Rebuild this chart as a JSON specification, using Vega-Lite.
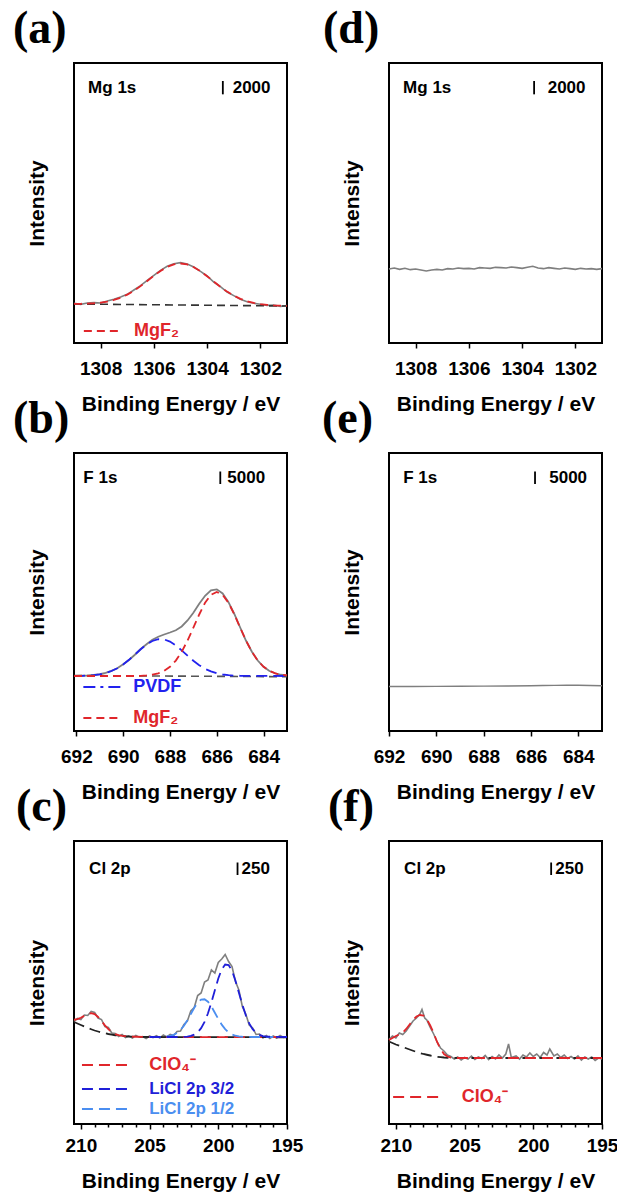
{
"$schema": "https://vega.github.io/schema/vega-lite/v6.json",
"padding": {"left": 12, "top": 5, "right": 0, "bottom": 0},
"columns": 2,
"bounds": "flush",
"spacing": {"row": 110, "column": 102},
"config": {
  "view": {"stroke": "#000", "strokeWidth": 2},
  "font": "Liberation Sans",
  "title": {"anchor": "start", "frame": "group", "font": "Liberation Serif", "fontSize": 46, "fontWeight": "bold", "color": "#000", "baseline": "alphabetic", "offset": 10},
  "axisX": {"titleFontSize": 21, "titleFontWeight": "bold", "titleColor": "#000", "labelFontSize": 19, "labelFontWeight": "bold", "labelColor": "#000", "tickColor": "#000", "tickWidth": 1.5, "tickSize": 5, "domain": false, "grid": false, "labelPadding": 11, "titlePadding": 15, "labelFlush": false, "labelOverlap": false},
  "axisY": {"labels": false, "ticks": false, "domain": false, "grid": false, "titleFontSize": 21, "titleFontWeight": "bold", "titleColor": "#000", "titlePadding": 27},
  "text": {"font": "Liberation Sans", "fontWeight": "bold", "fontSize": 17, "align": "left", "baseline": "middle", "color": "#000"},
  "line": {"strokeWidth": 1.8}
},
"datasets": {
  "a": [
    {"s":"raw","eV":1309,"cps":5950},{"s":"raw","eV":1308.75,"cps":5800},{"s":"raw","eV":1308.5,"cps":5990},{"s":"raw","eV":1308.25,"cps":6050},{"s":"raw","eV":1308,"cps":6000},{"s":"raw","eV":1307.75,"cps":6300},{"s":"raw","eV":1307.5,"cps":6550},{"s":"raw","eV":1307.25,"cps":6900},{"s":"raw","eV":1307,"cps":7300},{"s":"raw","eV":1306.75,"cps":7950},{"s":"raw","eV":1306.5,"cps":8600},{"s":"raw","eV":1306.25,"cps":9400},{"s":"raw","eV":1306,"cps":10150},{"s":"raw","eV":1305.75,"cps":10900},{"s":"raw","eV":1305.5,"cps":11500},{"s":"raw","eV":1305.25,"cps":11900},{"s":"raw","eV":1305,"cps":12050},{"s":"raw","eV":1304.75,"cps":11850},{"s":"raw","eV":1304.5,"cps":11400},{"s":"raw","eV":1304.25,"cps":10750},{"s":"raw","eV":1304,"cps":10050},{"s":"raw","eV":1303.75,"cps":9150},{"s":"raw","eV":1303.5,"cps":8450},{"s":"raw","eV":1303.25,"cps":7650},{"s":"raw","eV":1303,"cps":7100},{"s":"raw","eV":1302.75,"cps":6550},{"s":"raw","eV":1302.5,"cps":6200},{"s":"raw","eV":1302.25,"cps":5950},{"s":"raw","eV":1302,"cps":5800},{"s":"raw","eV":1301.75,"cps":5650},{"s":"raw","eV":1301.5,"cps":5700},{"s":"raw","eV":1301.25,"cps":5500},{"s":"raw","eV":1301,"cps":5600},
    {"s":"fit","eV":1309,"cps":5870},{"s":"fit","eV":1308.75,"cps":5881},{"s":"fit","eV":1308.5,"cps":5908},{"s":"fit","eV":1308.25,"cps":5962},{"s":"fit","eV":1308,"cps":6058},{"s":"fit","eV":1307.75,"cps":6215},{"s":"fit","eV":1307.5,"cps":6454},{"s":"fit","eV":1307.25,"cps":6795},{"s":"fit","eV":1307,"cps":7255},{"s":"fit","eV":1306.75,"cps":7839},{"s":"fit","eV":1306.5,"cps":8531},{"s":"fit","eV":1306.25,"cps":9299},{"s":"fit","eV":1306,"cps":10085},{"s":"fit","eV":1305.75,"cps":10815},{"s":"fit","eV":1305.5,"cps":11409},{"s":"fit","eV":1305.25,"cps":11796},{"s":"fit","eV":1305,"cps":11925},{"s":"fit","eV":1304.75,"cps":11778},{"s":"fit","eV":1304.5,"cps":11371},{"s":"fit","eV":1304.25,"cps":10758},{"s":"fit","eV":1304,"cps":10009},{"s":"fit","eV":1303.75,"cps":9205},{"s":"fit","eV":1303.5,"cps":8419},{"s":"fit","eV":1303.25,"cps":7707},{"s":"fit","eV":1303,"cps":7105},{"s":"fit","eV":1302.75,"cps":6627},{"s":"fit","eV":1302.5,"cps":6266},{"s":"fit","eV":1302.25,"cps":6009},{"s":"fit","eV":1302,"cps":5834},{"s":"fit","eV":1301.75,"cps":5718},{"s":"fit","eV":1301.5,"cps":5646},{"s":"fit","eV":1301.25,"cps":5599},{"s":"fit","eV":1301,"cps":5570},
    {"s":"bg","eV":1309,"cps":5850},{"s":"bg","eV":1301,"cps":5550}
  ],
  "d": [
    {"s":"raw","eV":1309,"cps":11100},{"s":"raw","eV":1308.8,"cps":11250},{"s":"raw","eV":1308.6,"cps":11050},{"s":"raw","eV":1308.4,"cps":11200},{"s":"raw","eV":1308.2,"cps":11000},{"s":"raw","eV":1308,"cps":11100},{"s":"raw","eV":1307.8,"cps":10950},{"s":"raw","eV":1307.6,"cps":10800},{"s":"raw","eV":1307.4,"cps":10950},{"s":"raw","eV":1307.2,"cps":11050},{"s":"raw","eV":1307,"cps":10950},{"s":"raw","eV":1306.8,"cps":11150},{"s":"raw","eV":1306.6,"cps":11100},{"s":"raw","eV":1306.4,"cps":11250},{"s":"raw","eV":1306.2,"cps":11150},{"s":"raw","eV":1306,"cps":11200},{"s":"raw","eV":1305.8,"cps":11100},{"s":"raw","eV":1305.6,"cps":11300},{"s":"raw","eV":1305.4,"cps":11250},{"s":"raw","eV":1305.2,"cps":11200},{"s":"raw","eV":1305,"cps":11350},{"s":"raw","eV":1304.8,"cps":11300},{"s":"raw","eV":1304.6,"cps":11250},{"s":"raw","eV":1304.4,"cps":11400},{"s":"raw","eV":1304.2,"cps":11300},{"s":"raw","eV":1304,"cps":11200},{"s":"raw","eV":1303.8,"cps":11350},{"s":"raw","eV":1303.6,"cps":11500},{"s":"raw","eV":1303.4,"cps":11250},{"s":"raw","eV":1303.2,"cps":11150},{"s":"raw","eV":1303,"cps":11300},{"s":"raw","eV":1302.8,"cps":11200},{"s":"raw","eV":1302.6,"cps":11100},{"s":"raw","eV":1302.4,"cps":11250},{"s":"raw","eV":1302.2,"cps":11150},{"s":"raw","eV":1302,"cps":11050},{"s":"raw","eV":1301.8,"cps":11200},{"s":"raw","eV":1301.6,"cps":11100},{"s":"raw","eV":1301.4,"cps":11150},{"s":"raw","eV":1301.2,"cps":11050},{"s":"raw","eV":1301,"cps":11150}
  ],
  "b": [
    {"s":"raw","eV":683,"cps":22200},{"s":"raw","eV":683.25,"cps":22500},{"s":"raw","eV":683.5,"cps":23100},{"s":"raw","eV":683.75,"cps":24000},{"s":"raw","eV":684,"cps":25700},{"s":"raw","eV":684.25,"cps":28200},{"s":"raw","eV":684.5,"cps":31700},{"s":"raw","eV":684.75,"cps":36100},{"s":"raw","eV":685,"cps":41400},{"s":"raw","eV":685.25,"cps":46800},{"s":"raw","eV":685.5,"cps":51550},{"s":"raw","eV":685.75,"cps":55000},{"s":"raw","eV":686,"cps":56650},{"s":"raw","eV":686.25,"cps":56300},{"s":"raw","eV":686.5,"cps":54100},{"s":"raw","eV":686.75,"cps":50900},{"s":"raw","eV":687,"cps":47300},{"s":"raw","eV":687.25,"cps":44200},{"s":"raw","eV":687.5,"cps":41800},{"s":"raw","eV":687.75,"cps":40300},{"s":"raw","eV":688,"cps":39400},{"s":"raw","eV":688.25,"cps":38600},{"s":"raw","eV":688.5,"cps":37700},{"s":"raw","eV":688.75,"cps":36500},{"s":"raw","eV":689,"cps":34700},{"s":"raw","eV":689.25,"cps":32800},{"s":"raw","eV":689.5,"cps":30500},{"s":"raw","eV":689.75,"cps":28400},{"s":"raw","eV":690,"cps":26700},{"s":"raw","eV":690.25,"cps":25100},{"s":"raw","eV":690.5,"cps":24050},{"s":"raw","eV":690.75,"cps":23250},{"s":"raw","eV":691,"cps":22700},{"s":"raw","eV":691.25,"cps":22400},{"s":"raw","eV":691.5,"cps":22150},{"s":"raw","eV":691.75,"cps":22100},{"s":"raw","eV":692,"cps":22050},{"s":"raw","eV":692.1,"cps":22000},
    {"s":"mgf2","eV":683,"cps":22240},{"s":"mgf2","eV":683.25,"cps":22520},{"s":"mgf2","eV":683.5,"cps":23040},{"s":"mgf2","eV":683.75,"cps":24040},{"s":"mgf2","eV":684,"cps":25680},{"s":"mgf2","eV":684.25,"cps":28160},{"s":"mgf2","eV":684.5,"cps":31640},{"s":"mgf2","eV":684.75,"cps":36160},{"s":"mgf2","eV":685,"cps":41320},{"s":"mgf2","eV":685.25,"cps":46600},{"s":"mgf2","eV":685.5,"cps":51280},{"s":"mgf2","eV":685.75,"cps":54440},{"s":"mgf2","eV":686,"cps":55600},{"s":"mgf2","eV":686.25,"cps":54440},{"s":"mgf2","eV":686.5,"cps":51280},{"s":"mgf2","eV":686.75,"cps":46600},{"s":"mgf2","eV":687,"cps":41320},{"s":"mgf2","eV":687.25,"cps":36160},{"s":"mgf2","eV":687.5,"cps":31640},{"s":"mgf2","eV":687.75,"cps":28160},{"s":"mgf2","eV":688,"cps":25680},{"s":"mgf2","eV":688.25,"cps":24040},{"s":"mgf2","eV":688.5,"cps":23040},{"s":"mgf2","eV":688.75,"cps":22520},{"s":"mgf2","eV":689,"cps":22240},{"s":"mgf2","eV":689.25,"cps":22080},{"s":"mgf2","eV":689.5,"cps":22000},{"s":"mgf2","eV":692.1,"cps":22000},
    {"s":"pvdf","eV":683,"cps":22000},{"s":"pvdf","eV":685,"cps":22080},{"s":"pvdf","eV":685.25,"cps":22160},{"s":"pvdf","eV":685.5,"cps":22320},{"s":"pvdf","eV":685.75,"cps":22600},{"s":"pvdf","eV":686,"cps":23080},{"s":"pvdf","eV":686.25,"cps":23840},{"s":"pvdf","eV":686.5,"cps":24880},{"s":"pvdf","eV":686.75,"cps":26320},{"s":"pvdf","eV":687,"cps":28080},{"s":"pvdf","eV":687.25,"cps":30120},{"s":"pvdf","eV":687.5,"cps":32240},{"s":"pvdf","eV":687.75,"cps":34200},{"s":"pvdf","eV":688,"cps":35760},{"s":"pvdf","eV":688.25,"cps":36640},{"s":"pvdf","eV":688.5,"cps":36720},{"s":"pvdf","eV":688.75,"cps":36000},{"s":"pvdf","eV":689,"cps":34560},{"s":"pvdf","eV":689.25,"cps":32680},{"s":"pvdf","eV":689.5,"cps":30560},{"s":"pvdf","eV":689.75,"cps":28480},{"s":"pvdf","eV":690,"cps":26640},{"s":"pvdf","eV":690.25,"cps":25120},{"s":"pvdf","eV":690.5,"cps":24000},{"s":"pvdf","eV":690.75,"cps":23200},{"s":"pvdf","eV":691,"cps":22680},{"s":"pvdf","eV":691.25,"cps":22360},{"s":"pvdf","eV":691.5,"cps":22200},{"s":"pvdf","eV":691.75,"cps":22080},{"s":"pvdf","eV":692.1,"cps":22030},
    {"s":"bg","eV":692.1,"cps":22200},{"s":"bg","eV":683,"cps":21700}
  ],
  "e": [
    {"s":"raw","eV":692,"cps":17800},{"s":"raw","eV":691,"cps":17820},{"s":"raw","eV":690,"cps":17850},{"s":"raw","eV":689,"cps":17900},{"s":"raw","eV":688,"cps":17950},{"s":"raw","eV":687,"cps":18000},{"s":"raw","eV":686,"cps":18100},{"s":"raw","eV":685.5,"cps":18180},{"s":"raw","eV":685,"cps":18250},{"s":"raw","eV":684.5,"cps":18300},{"s":"raw","eV":684,"cps":18280},{"s":"raw","eV":683.5,"cps":18200},{"s":"raw","eV":683,"cps":18100}
  ],
  "c": [
    {"s":"raw","eV":210.5,"cps":2050},{"s":"raw","eV":210.25,"cps":2110},{"s":"raw","eV":210,"cps":2090},{"s":"raw","eV":209.75,"cps":2180},{"s":"raw","eV":209.5,"cps":2170},{"s":"raw","eV":209.25,"cps":2250},{"s":"raw","eV":209,"cps":2230},{"s":"raw","eV":208.75,"cps":2120},{"s":"raw","eV":208.5,"cps":2090},{"s":"raw","eV":208.25,"cps":1950},{"s":"raw","eV":208,"cps":1930},{"s":"raw","eV":207.75,"cps":1820},{"s":"raw","eV":207.5,"cps":1810},{"s":"raw","eV":207.25,"cps":1750},{"s":"raw","eV":207,"cps":1790},{"s":"raw","eV":206.75,"cps":1730},{"s":"raw","eV":206.5,"cps":1760},{"s":"raw","eV":206.25,"cps":1720},{"s":"raw","eV":206,"cps":1770},{"s":"raw","eV":205.75,"cps":1735},{"s":"raw","eV":205.5,"cps":1750},{"s":"raw","eV":205.25,"cps":1710},{"s":"raw","eV":205,"cps":1760},{"s":"raw","eV":204.75,"cps":1730},{"s":"raw","eV":204.5,"cps":1765},{"s":"raw","eV":204.25,"cps":1720},{"s":"raw","eV":204,"cps":1780},{"s":"raw","eV":203.75,"cps":1740},{"s":"raw","eV":203.5,"cps":1790},{"s":"raw","eV":203.25,"cps":1770},{"s":"raw","eV":203,"cps":1850},{"s":"raw","eV":202.75,"cps":1860},{"s":"raw","eV":202.5,"cps":1990},{"s":"raw","eV":202.25,"cps":2060},{"s":"raw","eV":202,"cps":2260},{"s":"raw","eV":201.75,"cps":2330},{"s":"raw","eV":201.5,"cps":2570},{"s":"raw","eV":201.25,"cps":2620},{"s":"raw","eV":201,"cps":2840},{"s":"raw","eV":200.75,"cps":2880},{"s":"raw","eV":200.5,"cps":3080},{"s":"raw","eV":200.25,"cps":3020},{"s":"raw","eV":200,"cps":3230},{"s":"raw","eV":199.75,"cps":3300},{"s":"raw","eV":199.5,"cps":3390},{"s":"raw","eV":199.25,"cps":3250},{"s":"raw","eV":199,"cps":3150},{"s":"raw","eV":198.75,"cps":2850},{"s":"raw","eV":198.5,"cps":2680},{"s":"raw","eV":198.25,"cps":2350},{"s":"raw","eV":198,"cps":2200},{"s":"raw","eV":197.75,"cps":1980},{"s":"raw","eV":197.5,"cps":1920},{"s":"raw","eV":197.25,"cps":1790},{"s":"raw","eV":197,"cps":1800},{"s":"raw","eV":196.75,"cps":1720},{"s":"raw","eV":196.5,"cps":1770},{"s":"raw","eV":196.25,"cps":1710},{"s":"raw","eV":196,"cps":1760},{"s":"raw","eV":195.75,"cps":1720},{"s":"raw","eV":195.5,"cps":1770},{"s":"raw","eV":195.25,"cps":1730},{"s":"raw","eV":195,"cps":1750},
    {"s":"clo4","eV":210.5,"cps":2085},{"s":"clo4","eV":210.25,"cps":2096},{"s":"clo4","eV":210,"cps":2124},{"s":"clo4","eV":209.75,"cps":2164},{"s":"clo4","eV":209.5,"cps":2200},{"s":"clo4","eV":209.25,"cps":2217},{"s":"clo4","eV":209,"cps":2197},{"s":"clo4","eV":208.75,"cps":2141},{"s":"clo4","eV":208.5,"cps":2059},{"s":"clo4","eV":208.25,"cps":1973},{"s":"clo4","eV":208,"cps":1896},{"s":"clo4","eV":207.75,"cps":1838},{"s":"clo4","eV":207.5,"cps":1799},{"s":"clo4","eV":207.25,"cps":1777},{"s":"clo4","eV":207,"cps":1764},{"s":"clo4","eV":206.5,"cps":1750},{"s":"clo4","eV":206,"cps":1745},{"s":"clo4","eV":205,"cps":1740},{"s":"clo4","eV":195,"cps":1738},
    {"s":"bg","eV":210.5,"cps":2040},{"s":"bg","eV":210.25,"cps":2010},{"s":"bg","eV":210,"cps":1980},{"s":"bg","eV":209.75,"cps":1950},{"s":"bg","eV":209.5,"cps":1920},{"s":"bg","eV":209.25,"cps":1895},{"s":"bg","eV":209,"cps":1870},{"s":"bg","eV":208.75,"cps":1850},{"s":"bg","eV":208.5,"cps":1830},{"s":"bg","eV":208.25,"cps":1815},{"s":"bg","eV":208,"cps":1800},{"s":"bg","eV":207.75,"cps":1787},{"s":"bg","eV":207.5,"cps":1775},{"s":"bg","eV":207.25,"cps":1767},{"s":"bg","eV":207,"cps":1760},{"s":"bg","eV":206.5,"cps":1750},{"s":"bg","eV":206,"cps":1745},{"s":"bg","eV":205,"cps":1740},{"s":"bg","eV":195,"cps":1735},
    {"s":"l32","eV":195,"cps":1740},{"s":"l32","eV":196,"cps":1741},{"s":"l32","eV":196.5,"cps":1749},{"s":"l32","eV":196.75,"cps":1759},{"s":"l32","eV":197,"cps":1782},{"s":"l32","eV":197.25,"cps":1824},{"s":"l32","eV":197.5,"cps":1897},{"s":"l32","eV":197.75,"cps":2012},{"s":"l32","eV":198,"cps":2175},{"s":"l32","eV":198.25,"cps":2386},{"s":"l32","eV":198.5,"cps":2625},{"s":"l32","eV":198.75,"cps":2864},{"s":"l32","eV":199,"cps":3062},{"s":"l32","eV":199.25,"cps":3180},{"s":"l32","eV":199.5,"cps":3190},{"s":"l32","eV":199.75,"cps":3094},{"s":"l32","eV":200,"cps":2909},{"s":"l32","eV":200.25,"cps":2675},{"s":"l32","eV":200.5,"cps":2432},{"s":"l32","eV":200.75,"cps":2214},{"s":"l32","eV":201,"cps":2041},{"s":"l32","eV":201.25,"cps":1916},{"s":"l32","eV":201.5,"cps":1836},{"s":"l32","eV":201.75,"cps":1788},{"s":"l32","eV":202,"cps":1763},{"s":"l32","eV":202.25,"cps":1749},{"s":"l32","eV":202.5,"cps":1744},{"s":"l32","eV":203,"cps":1740},{"s":"l32","eV":205,"cps":1740},
    {"s":"l12","eV":196,"cps":1740},{"s":"l12","eV":197.5,"cps":1740},{"s":"l12","eV":198,"cps":1742},{"s":"l12","eV":198.25,"cps":1745},{"s":"l12","eV":198.5,"cps":1752},{"s":"l12","eV":198.75,"cps":1765},{"s":"l12","eV":199,"cps":1790},{"s":"l12","eV":199.25,"cps":1832},{"s":"l12","eV":199.5,"cps":1897},{"s":"l12","eV":199.75,"cps":1987},{"s":"l12","eV":200,"cps":2100},{"s":"l12","eV":200.25,"cps":2226},{"s":"l12","eV":200.5,"cps":2349},{"s":"l12","eV":200.75,"cps":2445},{"s":"l12","eV":201,"cps":2495},{"s":"l12","eV":201.25,"cps":2489},{"s":"l12","eV":201.5,"cps":2429},{"s":"l12","eV":201.75,"cps":2325},{"s":"l12","eV":202,"cps":2201},{"s":"l12","eV":202.25,"cps":2076},{"s":"l12","eV":202.5,"cps":1966},{"s":"l12","eV":202.75,"cps":1881},{"s":"l12","eV":203,"cps":1822},{"s":"l12","eV":203.25,"cps":1784},{"s":"l12","eV":203.5,"cps":1762},{"s":"l12","eV":203.75,"cps":1750},{"s":"l12","eV":204,"cps":1744},{"s":"l12","eV":205,"cps":1740}
  ],
  "f": [
    {"s":"raw","eV":210.5,"cps":1690},{"s":"raw","eV":210.25,"cps":1760},{"s":"raw","eV":210,"cps":1720},{"s":"raw","eV":209.75,"cps":1820},{"s":"raw","eV":209.5,"cps":1790},{"s":"raw","eV":209.25,"cps":1860},{"s":"raw","eV":209,"cps":1960},{"s":"raw","eV":208.75,"cps":2060},{"s":"raw","eV":208.5,"cps":2120},{"s":"raw","eV":208.25,"cps":2200},{"s":"raw","eV":208.1,"cps":2290},{"s":"raw","eV":207.9,"cps":2120},{"s":"raw","eV":207.75,"cps":2080},{"s":"raw","eV":207.5,"cps":1930},{"s":"raw","eV":207.25,"cps":1800},{"s":"raw","eV":207,"cps":1640},{"s":"raw","eV":206.75,"cps":1520},{"s":"raw","eV":206.5,"cps":1460},{"s":"raw","eV":206.25,"cps":1380},{"s":"raw","eV":206,"cps":1350},{"s":"raw","eV":205.75,"cps":1300},{"s":"raw","eV":205.5,"cps":1340},{"s":"raw","eV":205.25,"cps":1280},{"s":"raw","eV":205,"cps":1330},{"s":"raw","eV":204.75,"cps":1300},{"s":"raw","eV":204.5,"cps":1360},{"s":"raw","eV":204.25,"cps":1290},{"s":"raw","eV":204,"cps":1340},{"s":"raw","eV":203.75,"cps":1310},{"s":"raw","eV":203.5,"cps":1370},{"s":"raw","eV":203.25,"cps":1290},{"s":"raw","eV":203,"cps":1350},{"s":"raw","eV":202.75,"cps":1300},{"s":"raw","eV":202.5,"cps":1380},{"s":"raw","eV":202.25,"cps":1320},{"s":"raw","eV":202,"cps":1400},{"s":"raw","eV":201.8,"cps":1600},{"s":"raw","eV":201.6,"cps":1330},{"s":"raw","eV":201.25,"cps":1360},{"s":"raw","eV":201,"cps":1300},{"s":"raw","eV":200.75,"cps":1380},{"s":"raw","eV":200.5,"cps":1340},{"s":"raw","eV":200.25,"cps":1420},{"s":"raw","eV":200,"cps":1350},{"s":"raw","eV":199.75,"cps":1400},{"s":"raw","eV":199.5,"cps":1330},{"s":"raw","eV":199.25,"cps":1430},{"s":"raw","eV":199,"cps":1380},{"s":"raw","eV":198.8,"cps":1500},{"s":"raw","eV":198.5,"cps":1360},{"s":"raw","eV":198.25,"cps":1400},{"s":"raw","eV":198,"cps":1330},{"s":"raw","eV":197.75,"cps":1380},{"s":"raw","eV":197.5,"cps":1310},{"s":"raw","eV":197.25,"cps":1350},{"s":"raw","eV":197,"cps":1300},{"s":"raw","eV":196.75,"cps":1360},{"s":"raw","eV":196.5,"cps":1280},{"s":"raw","eV":196.25,"cps":1340},{"s":"raw","eV":196,"cps":1300},{"s":"raw","eV":195.75,"cps":1340},{"s":"raw","eV":195.5,"cps":1270},{"s":"raw","eV":195.25,"cps":1320},{"s":"raw","eV":195,"cps":1300},
    {"s":"fit","eV":210.5,"cps":1680},{"s":"fit","eV":210.25,"cps":1720},{"s":"fit","eV":210,"cps":1760},{"s":"fit","eV":209.75,"cps":1790},{"s":"fit","eV":209.5,"cps":1830},{"s":"fit","eV":209.25,"cps":1900},{"s":"fit","eV":209,"cps":1990},{"s":"fit","eV":208.75,"cps":2080},{"s":"fit","eV":208.5,"cps":2150},{"s":"fit","eV":208.25,"cps":2180},{"s":"fit","eV":208,"cps":2170},{"s":"fit","eV":207.75,"cps":2100},{"s":"fit","eV":207.5,"cps":1970},{"s":"fit","eV":207.25,"cps":1820},{"s":"fit","eV":207,"cps":1640},{"s":"fit","eV":206.75,"cps":1500},{"s":"fit","eV":206.5,"cps":1400},{"s":"fit","eV":206.25,"cps":1350},{"s":"fit","eV":206,"cps":1330},{"s":"fit","eV":205.75,"cps":1320},{"s":"fit","eV":205.5,"cps":1320},{"s":"fit","eV":195,"cps":1320},
    {"s":"bg","eV":210.5,"cps":1650},{"s":"bg","eV":210.25,"cps":1620},{"s":"bg","eV":210,"cps":1590},{"s":"bg","eV":209.75,"cps":1565},{"s":"bg","eV":209.5,"cps":1540},{"s":"bg","eV":209.25,"cps":1515},{"s":"bg","eV":209,"cps":1490},{"s":"bg","eV":208.75,"cps":1465},{"s":"bg","eV":208.5,"cps":1440},{"s":"bg","eV":208.25,"cps":1420},{"s":"bg","eV":208,"cps":1400},{"s":"bg","eV":207.75,"cps":1385},{"s":"bg","eV":207.5,"cps":1370},{"s":"bg","eV":207.25,"cps":1355},{"s":"bg","eV":207,"cps":1345},{"s":"bg","eV":206.75,"cps":1337},{"s":"bg","eV":206.5,"cps":1330},{"s":"bg","eV":206.25,"cps":1325},{"s":"bg","eV":206,"cps":1322},{"s":"bg","eV":205.5,"cps":1320},{"s":"bg","eV":195,"cps":1320}
  ]
},
"concat": [
  {
    "width": 213, "height": 280,
    "title": {"text": "(a)", "dx": -61},
    "encoding": {
      "x": {"field": "eV", "type": "quantitative", "title": "Binding Energy / eV", "scale": {"domain": [1301, 1309], "reverse": true, "nice": false, "zero": false}, "axis": {"values": [1302, 1304, 1306, 1308], "format": "d"}},
      "y": {"field": "cps", "type": "quantitative", "title": "Intensity", "scale": {"domain": [0, 42000], "nice": false, "zero": false}}
    },
    "layer": [
      {"data": {"name": "a"}, "transform": [{"filter": "datum.s === 'raw'"}], "mark": {"type": "line", "color": "#7f7f7f", "strokeWidth": 1.6}},
      {"data": {"name": "a"}, "transform": [{"filter": "datum.s === 'bg'"}], "mark": {"type": "line", "color": "#333333", "strokeDash": [8, 5], "strokeWidth": 1.6}},
      {"data": {"name": "a"}, "transform": [{"filter": "datum.s === 'fit'"}], "mark": {"type": "line", "color": "#e0262b", "strokeDash": [8, 5]}},
      {"data": {"values": [{"eV": 1308.47, "cps": 38250, "t": "Mg 1s"}, {"eV": 1303.04, "cps": 38250, "t": "2000"}]}, "mark": {"type": "text"}, "encoding": {"text": {"field": "t"}}},
      {"data": {"values": [{"eV": 1303.41, "cps": 37300, "cps2": 39300}]}, "mark": {"type": "rule", "color": "#000", "strokeWidth": 1.8}, "encoding": {"y2": {"field": "cps2"}}},
      {"data": {"values": [{"eV": 1308.63, "eV2": 1307.31, "cps": 1800}]}, "mark": {"type": "rule", "color": "#e0262b", "strokeDash": [8, 5], "strokeWidth": 1.8}, "encoding": {"x2": {"field": "eV2"}}},
      {"data": {"values": [{"eV": 1306.75, "cps": 1800, "t": "MgF₂"}]}, "mark": {"type": "text", "color": "#e0262b", "fontSize": 18}, "encoding": {"text": {"field": "t"}}}
    ]
  },
  {
    "width": 213, "height": 280,
    "title": {"text": "(d)", "dx": -66},
    "encoding": {
      "x": {"field": "eV", "type": "quantitative", "title": "Binding Energy / eV", "scale": {"domain": [1301, 1309], "reverse": true, "nice": false, "zero": false}, "axis": {"values": [1302, 1304, 1306, 1308], "format": "d"}},
      "y": {"field": "cps", "type": "quantitative", "title": "Intensity", "scale": {"domain": [0, 42000], "nice": false, "zero": false}}
    },
    "layer": [
      {"data": {"name": "d"}, "mark": {"type": "line", "color": "#7f7f7f", "strokeWidth": 1.6}},
      {"data": {"values": [{"eV": 1308.47, "cps": 38250, "t": "Mg 1s"}, {"eV": 1303.04, "cps": 38250, "t": "2000"}]}, "mark": {"type": "text"}, "encoding": {"text": {"field": "t"}}},
      {"data": {"values": [{"eV": 1303.55, "cps": 37300, "cps2": 39300}]}, "mark": {"type": "rule", "color": "#000", "strokeWidth": 1.8}, "encoding": {"y2": {"field": "cps2"}}}
    ]
  },
  {
    "width": 213, "height": 278,
    "title": {"text": "(b)", "dx": -61},
    "encoding": {
      "x": {"field": "eV", "type": "quantitative", "title": "Binding Energy / eV", "scale": {"domain": [683, 692.1], "reverse": true, "nice": false, "zero": false}, "axis": {"values": [684, 686, 688, 690, 692], "format": "d"}},
      "y": {"field": "cps", "type": "quantitative", "title": "Intensity", "scale": {"domain": [0, 111200], "nice": false, "zero": false}}
    },
    "layer": [
      {"data": {"name": "b"}, "transform": [{"filter": "datum.s === 'raw'"}], "mark": {"type": "line", "color": "#7f7f7f", "strokeWidth": 1.8}},
      {"data": {"name": "b"}, "transform": [{"filter": "datum.s === 'bg'"}], "mark": {"type": "line", "color": "#555555", "strokeDash": [8, 5], "strokeWidth": 1.6}},
      {"data": {"name": "b"}, "transform": [{"filter": "datum.s === 'pvdf'"}], "mark": {"type": "line", "color": "#2222ee", "strokeDash": [11, 6]}},
      {"data": {"name": "b"}, "transform": [{"filter": "datum.s === 'mgf2'"}], "mark": {"type": "line", "color": "#e0262b", "strokeDash": [8, 5]}},
      {"data": {"values": [{"eV": 691.7, "cps": 101200, "t": "F 1s"}, {"eV": 685.55, "cps": 101200, "t": "5000"}]}, "mark": {"type": "text"}, "encoding": {"text": {"field": "t"}}},
      {"data": {"values": [{"eV": 685.85, "cps": 98800, "cps2": 103800}]}, "mark": {"type": "rule", "color": "#000", "strokeWidth": 1.8}, "encoding": {"y2": {"field": "cps2"}}},
      {"data": {"values": [{"eV": 691.7, "eV2": 690.12, "cps": 17600}]}, "mark": {"type": "rule", "color": "#2222ee", "strokeDash": [12, 5, 3, 5], "strokeWidth": 1.8}, "encoding": {"x2": {"field": "eV2"}}},
      {"data": {"values": [{"eV": 689.57, "cps": 17600, "t": "PVDF"}]}, "mark": {"type": "text", "color": "#2222ee", "fontSize": 18}, "encoding": {"text": {"field": "t"}}},
      {"data": {"values": [{"eV": 691.7, "eV2": 690.12, "cps": 5200}]}, "mark": {"type": "rule", "color": "#e0262b", "strokeDash": [8, 5], "strokeWidth": 1.8}, "encoding": {"x2": {"field": "eV2"}}},
      {"data": {"values": [{"eV": 689.57, "cps": 5200, "t": "MgF₂"}]}, "mark": {"type": "text", "color": "#e0262b", "fontSize": 18}, "encoding": {"text": {"field": "t"}}}
    ]
  },
  {
    "width": 213, "height": 278,
    "title": {"text": "(e)", "dx": -67},
    "encoding": {
      "x": {"field": "eV", "type": "quantitative", "title": "Binding Energy / eV", "scale": {"domain": [683, 692], "reverse": true, "nice": false, "zero": false}, "axis": {"values": [684, 686, 688, 690, 692], "format": "d"}},
      "y": {"field": "cps", "type": "quantitative", "title": "Intensity", "scale": {"domain": [0, 111200], "nice": false, "zero": false}}
    },
    "layer": [
      {"data": {"name": "e"}, "mark": {"type": "line", "color": "#7f7f7f", "strokeWidth": 1.4}},
      {"data": {"values": [{"eV": 691.4, "cps": 101200, "t": "F 1s"}, {"eV": 685.23, "cps": 101200, "t": "5000"}]}, "mark": {"type": "text"}, "encoding": {"text": {"field": "t"}}},
      {"data": {"values": [{"eV": 685.83, "cps": 98800, "cps2": 103800}]}, "mark": {"type": "rule", "color": "#000", "strokeWidth": 1.8}, "encoding": {"y2": {"field": "cps2"}}}
    ]
  },
  {
    "width": 213, "height": 283,
    "title": {"text": "(c)", "dx": -58},
    "encoding": {
      "x": {"field": "eV", "type": "quantitative", "title": "Binding Energy / eV", "scale": {"domain": [195, 210.5], "reverse": true, "nice": false, "zero": false}, "axis": {"values": [195,196,197,198,199,200,201,202,203,204,205,206,207,208,209,210], "labelPadding": 7, "labelExpr": "datum.value % 5 === 0 ? datum.label : ''", "tickSize": {"condition": {"test": "datum.value % 5 === 0", "value": 5}, "value": 3}}},
      "y": {"field": "cps", "type": "quantitative", "title": "Intensity", "scale": {"domain": [0, 5660], "nice": false, "zero": false}}
    },
    "layer": [
      {"data": {"name": "c"}, "transform": [{"filter": "datum.s === 'raw'"}], "mark": {"type": "line", "color": "#7f7f7f", "strokeWidth": 1.6}},
      {"data": {"name": "c"}, "transform": [{"filter": "datum.s === 'bg'"}], "mark": {"type": "line", "color": "#222222", "strokeDash": [11, 6]}},
      {"data": {"name": "c"}, "transform": [{"filter": "datum.s === 'clo4'"}], "mark": {"type": "line", "color": "#e0262b", "strokeDash": [11, 6]}},
      {"data": {"name": "c"}, "transform": [{"filter": "datum.s === 'l12'"}], "mark": {"type": "line", "color": "#4b8ef0", "strokeDash": [11, 6]}},
      {"data": {"name": "c"}, "transform": [{"filter": "datum.s === 'l32'"}], "mark": {"type": "line", "color": "#1f1fd8", "strokeDash": [11, 6]}},
      {"data": {"values": [{"eV": 209.4, "cps": 5100, "t": "Cl 2p"}, {"eV": 198.31, "cps": 5100, "t": "250"}]}, "mark": {"type": "text"}, "encoding": {"text": {"field": "t"}}},
      {"data": {"values": [{"eV": 198.6, "cps": 4980, "cps2": 5230}]}, "mark": {"type": "rule", "color": "#000", "strokeWidth": 1.8}, "encoding": {"y2": {"field": "cps2"}}},
      {"data": {"values": [{"eV": 209.92, "eV2": 206.49, "cps": 1180}]}, "mark": {"type": "rule", "color": "#e0262b", "strokeDash": [11, 6], "strokeWidth": 1.8}, "encoding": {"x2": {"field": "eV2"}}},
      {"data": {"values": [{"eV": 205.03, "cps": 1180, "t": "ClO₄⁻"}]}, "mark": {"type": "text", "color": "#e0262b", "fontSize": 18}, "encoding": {"text": {"field": "t"}}},
      {"data": {"values": [{"eV": 209.92, "eV2": 206.49, "cps": 700}]}, "mark": {"type": "rule", "color": "#1f1fd8", "strokeDash": [11, 6], "strokeWidth": 1.8}, "encoding": {"x2": {"field": "eV2"}}},
      {"data": {"values": [{"eV": 205.03, "cps": 700, "t": "LiCl 2p 3/2"}]}, "mark": {"type": "text", "color": "#1f1fd8", "fontSize": 17}, "encoding": {"text": {"field": "t"}}},
      {"data": {"values": [{"eV": 209.92, "eV2": 206.49, "cps": 300}]}, "mark": {"type": "rule", "color": "#4b8ef0", "strokeDash": [11, 6], "strokeWidth": 1.8}, "encoding": {"x2": {"field": "eV2"}}},
      {"data": {"values": [{"eV": 205.03, "cps": 300, "t": "LiCl 2p 1/2"}]}, "mark": {"type": "text", "color": "#4b8ef0", "fontSize": 17}, "encoding": {"text": {"field": "t"}}}
    ]
  },
  {
    "width": 213, "height": 283,
    "title": {"text": "(f)", "dx": -61},
    "encoding": {
      "x": {"field": "eV", "type": "quantitative", "title": "Binding Energy / eV", "scale": {"domain": [195, 210.5], "reverse": true, "nice": false, "zero": false}, "axis": {"values": [195,196,197,198,199,200,201,202,203,204,205,206,207,208,209,210], "labelPadding": 7, "labelExpr": "datum.value % 5 === 0 ? datum.label : ''", "tickSize": {"condition": {"test": "datum.value % 5 === 0", "value": 5}, "value": 3}}},
      "y": {"field": "cps", "type": "quantitative", "title": "Intensity", "scale": {"domain": [0, 5660], "nice": false, "zero": false}}
    },
    "layer": [
      {"data": {"name": "f"}, "transform": [{"filter": "datum.s === 'raw'"}], "mark": {"type": "line", "color": "#7f7f7f", "strokeWidth": 1.6}},
      {"data": {"name": "f"}, "transform": [{"filter": "datum.s === 'bg'"}], "mark": {"type": "line", "color": "#222222", "strokeDash": [11, 6]}},
      {"data": {"name": "f"}, "transform": [{"filter": "datum.s === 'fit'"}], "mark": {"type": "line", "color": "#e0262b", "strokeDash": [11, 6]}},
      {"data": {"values": [{"eV": 209.4, "cps": 5100, "t": "Cl 2p"}, {"eV": 198.4, "cps": 5100, "t": "250"}]}, "mark": {"type": "text"}, "encoding": {"text": {"field": "t"}}},
      {"data": {"values": [{"eV": 198.7, "cps": 4980, "cps2": 5230}]}, "mark": {"type": "rule", "color": "#000", "strokeWidth": 1.8}, "encoding": {"y2": {"field": "cps2"}}},
      {"data": {"values": [{"eV": 210.2, "eV2": 206.9, "cps": 540}]}, "mark": {"type": "rule", "color": "#e0262b", "strokeDash": [11, 6], "strokeWidth": 1.8}, "encoding": {"x2": {"field": "eV2"}}},
      {"data": {"values": [{"eV": 205.2, "cps": 540, "t": "ClO₄⁻"}]}, "mark": {"type": "text", "color": "#e0262b", "fontSize": 18}, "encoding": {"text": {"field": "t"}}}
    ]
  }
]
}
